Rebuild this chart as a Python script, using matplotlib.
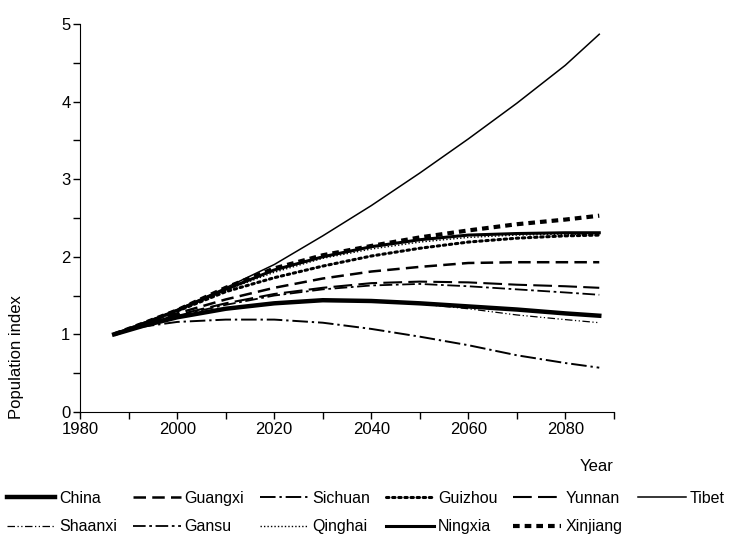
import numpy as np
import matplotlib.pyplot as plt
from matplotlib.ticker import MultipleLocator

plt.rcParams['font.family'] = ['Liberation Sans', 'DejaVu Sans']

years = [1987, 1993, 2000, 2010, 2020, 2030, 2040, 2050, 2060, 2070, 2080, 2087]

china    = [1.0, 1.11, 1.22, 1.33, 1.40, 1.44, 1.43, 1.40, 1.36, 1.32, 1.27, 1.24]
guangxi  = [1.0, 1.13, 1.27, 1.45, 1.60, 1.72, 1.81, 1.87, 1.92, 1.93, 1.93, 1.93]
sichuan  = [1.0, 1.10, 1.16, 1.19, 1.19, 1.15, 1.07, 0.97, 0.86, 0.73, 0.63, 0.57]
guizhou  = [1.0, 1.14, 1.30, 1.55, 1.73, 1.88, 2.01, 2.11, 2.19, 2.24, 2.27, 2.28]
yunnan   = [1.0, 1.12, 1.25, 1.40, 1.52, 1.60, 1.66, 1.68, 1.67, 1.64, 1.62, 1.60]
tibet    = [1.0, 1.14, 1.32, 1.60, 1.90, 2.27, 2.66, 3.08, 3.52, 3.98, 4.47, 4.87]
shaanxi  = [1.0, 1.11, 1.21, 1.32, 1.39, 1.43, 1.43, 1.39, 1.33, 1.25, 1.19, 1.15]
gansu    = [1.0, 1.12, 1.24, 1.38, 1.50, 1.58, 1.63, 1.65, 1.62, 1.58, 1.54, 1.51]
qinghai  = [1.0, 1.14, 1.30, 1.57, 1.80, 1.98, 2.10, 2.19, 2.25, 2.28, 2.29, 2.29]
ningxia  = [1.0, 1.14, 1.31, 1.58, 1.83, 2.00, 2.13, 2.22, 2.28, 2.30, 2.31, 2.31]
xinjiang = [1.0, 1.14, 1.31, 1.60, 1.85, 2.02, 2.14, 2.25, 2.34, 2.42, 2.48, 2.53]

fig = plt.figure(figsize=(7.29, 5.37), dpi=100)
ax = fig.add_axes([0.110, 0.233, 0.732, 0.722])

k = 'black'
l_china, = ax.plot(years, china, color=k, lw=3.2, label='China')
l_guangxi, = ax.plot(years, guangxi, color=k, lw=1.8, dashes=(5, 2.5), label='Guangxi')
l_sichuan, = ax.plot(years, sichuan, color=k, lw=1.4, dashes=(8, 2, 1.2, 2), label='Sichuan')
l_guizhou, = ax.plot(years, guizhou, color=k, lw=2.2, dashes=(0.8, 1.2), dash_capstyle='round', label='Guizhou')
l_yunnan, = ax.plot(years, yunnan, color=k, lw=1.5, dashes=(9, 3), label='Yunnan')
l_tibet, = ax.plot(years, tibet, color=k, lw=1.1, label='Tibet')
l_shaanxi, = ax.plot(years, shaanxi, color=k, lw=0.9, dashes=(6, 2, 1, 2, 1, 2), label='Shaanxi')
l_gansu, = ax.plot(years, gansu, color=k, lw=1.3, dashes=(7, 2, 1.5, 2), label='Gansu')
l_qinghai, = ax.plot(years, qinghai, color=k, lw=1.0, dashes=(1, 1.5), label='Qinghai')
l_ningxia, = ax.plot(years, ningxia, color=k, lw=2.2, label='Ningxia')
l_xinjiang, = ax.plot(years, xinjiang, color=k, lw=3.0, dashes=(1.6, 1.2), label='Xinjiang')

ax.set_xlim(1980, 2090)
ax.set_ylim(0, 5)
ax.xaxis.set_major_locator(MultipleLocator(20))
ax.xaxis.set_minor_locator(MultipleLocator(10))
ax.yaxis.set_major_locator(MultipleLocator(1))
ax.yaxis.set_minor_locator(MultipleLocator(0.5))
ax.tick_params(which='both', direction='out', length=5, width=1, labelsize=12, pad=2)
ax.spines['top'].set_visible(False)
ax.spines['right'].set_visible(False)

ax.set_xlabel('Year', fontsize=12, loc='right', labelpad=16)
fig.text(0.022, 0.335, 'Population index', rotation=90, fontsize=12,
         ha='center', va='center')

# row-wise order for a 6 column legend
handles = [l_china, l_shaanxi, l_guangxi, l_gansu, l_sichuan, l_qinghai,
           l_guizhou, l_ningxia, l_yunnan, l_xinjiang, l_tibet]
fig.legend(handles=handles, loc='lower center', bbox_to_anchor=(0.502, -0.022),
           ncol=6, frameon=False, fontsize=11.5, handlelength=3.0,
           handletextpad=0.25, columnspacing=1.0, labelspacing=0.85)

fig.savefig('out.png', dpi=100)
